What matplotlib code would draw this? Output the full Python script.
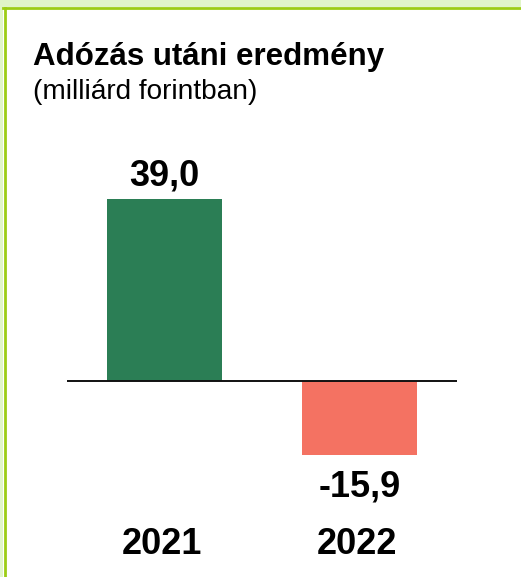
import matplotlib
matplotlib.use("Agg")
from matplotlib import pyplot as plt
from matplotlib import transforms
from matplotlib.patches import Rectangle
from matplotlib.lines import Line2D

years = ["2021", "2022"]
values = [39.0, -15.9]
value_labels = ["39,0", "-15,9"]
bar_colors = ["#2B7E55", "#F47262"]

plt.rcParams['font.family'] = ['Liberation Sans', 'DejaVu Sans']

W, H = 521, 577
fig = plt.figure(figsize=(W / 100, H / 100), dpi=100)
fig.patch.set_facecolor("white")

# frame decoration: light band on top, lime line under it and on the left
fig.add_artist(Rectangle((0, 1 - 7 / H), 1, 7 / H, transform=fig.transFigure,
                         facecolor="#E0F5C8", edgecolor="none"))
fig.add_artist(Rectangle((0, 0), 3 / W, 1, transform=fig.transFigure,
                         facecolor="#E0F5C8", edgecolor="none"))
fig.add_artist(Line2D([3 / W, 1], [1 - 8 / H, 1 - 8 / H], transform=fig.transFigure,
                      color="#9CCD14", lw=2.0))
fig.add_artist(Line2D([4.5 / W, 4.5 / W], [0, 1 - 8 / H], transform=fig.transFigure,
                      color="#9CCD14", lw=2.0))

# axes placed in pixel terms
left, right, top, bottom = 67, 457, 150, 470
ax = fig.add_axes([left / W, 1 - bottom / H, (right - left) / W, (bottom - top) / H])
zero_px = 381
px_per_unit = 182 / 39.0
ax.set_xlim(-0.5, 1.5)
ax.set_ylim(-(bottom - zero_px) / px_per_unit, (zero_px - top) / px_per_unit)
ax.axis("off")

x = list(range(len(years)))
ax.bar(x, values, width=0.59, color=bar_colors, zorder=1)
ax.axhline(0, color="#111111", lw=1.4, zorder=2)

for xi, v, lab in zip(x, values, value_labels):
    off = 10 if v >= 0 else -30
    ax.annotate(lab, (xi, v), xytext=(0, off), textcoords="offset points",
                ha="center", va="baseline", fontsize=26, fontweight="bold")

trans = transforms.blended_transform_factory(ax.transData, fig.transFigure)
for xi, yr in zip(x, years):
    ax.text(xi - 0.015, 1 - 554 / H, yr, transform=trans, ha="center", va="baseline",
            fontsize=26, fontweight="bold")

fig.text(33 / W, 1 - 65 / H, "Adózás utáni eredmény", fontsize=22.5,
         fontweight="bold", va="baseline")
fig.text(33 / W, 1 - 99 / H, "(milliárd forintban)", fontsize=20.2, va="baseline")

plt.savefig("out.png", format="png", dpi=100)
